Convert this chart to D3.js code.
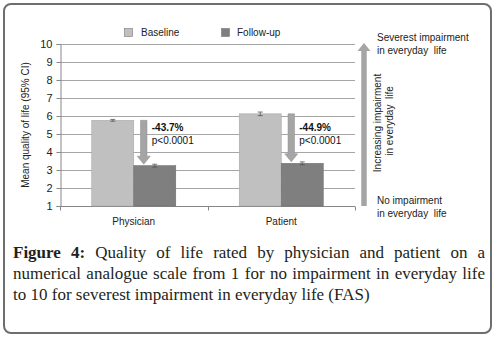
<!DOCTYPE html>
<html>
<head>
<meta charset="utf-8">
<script src="https://cdn.jsdelivr.net/npm/d3@7"></script>
<style>
  body { margin: 0; background: #fff; }
  text { font-family: "Liberation Sans", Arial, sans-serif; }
  .pre { white-space: pre; }
</style>
</head>
<body>
<div id="chart"></div>
<script>
// data
const categories = ["Physician", "Patient"];
const series = ["Baseline", "Follow-up"];
const baseline = [5.76, 6.12];
const followUp = [3.24, 3.37];
const baselineErr = [0.05, 0.1];
const followUpErr = [0.08, 0.08];
const changeLabels = ["-43.7%", "-44.9%"];
const pLabels = ["p<0.0001", "p<0.0001"];
const yTicks = [1, 2, 3, 4, 5, 6, 7, 8, 9, 10];
const captionLines = [
  "Quality of life rated by physician and patient on a",
  "numerical analogue scale from 1 for no impairment in everyday life",
  "to 10 for severest impairment in everyday life (FAS)"
];

let width = 497,
    height = 337,
    margin = ({ top: 44, right: 142, bottom: 131, left: 60 });

const svg = d3.select("#chart")
  .append("svg")
  .attr("width", width)
  .attr("height", height);

// frame round the whole figure
svg.append("rect")
  .attr("x", 4).attr("y", 4)
  .attr("width", 487).attr("height", 329)
  .attr("rx", 7)
  .attr("fill", "#fff")
  .attr("stroke", "#6e6e6e")
  .attr("stroke-width", 2);

let x = d3.scaleBand()
  .domain(categories)
  .range([margin.left, width - margin.right]);

let xs = d3.scaleBand()
  .domain(series)
  .range([0, x.bandwidth()])
  .paddingOuter(0.756);

let y = d3.scaleLinear()
  .domain([1, 10])
  .range([height - margin.bottom, margin.top]);

// gridlines
svg.append("g")
  .selectAll("line")
  .data(yTicks.slice(1))
  .join("line")
  .attr("x1", margin.left).attr("x2", width - margin.right)
  .attr("y1", d => y(d) + 0.5).attr("y2", d => y(d) + 0.5)
  .attr("stroke", "#a6a6a6");

// y axis
let yAxis = svg.append("g")
  .attr("transform", `translate(${margin.left + 0.5},0)`)
  .call(d3.axisLeft(y).tickValues(yTicks).tickSize(4).tickPadding(4));
yAxis.select(".domain").attr("stroke", "#868686");
yAxis.selectAll(".tick line").attr("stroke", "#868686");
yAxis.selectAll("text").attr("font-size", 11).attr("fill", "#222")
  .attr("font-family", "Liberation Sans, Arial, sans-serif");

// x axis, ticks sit on the band edges
let xAxis = svg.append("g")
  .attr("transform", `translate(0,${y(1) + 0.5})`);
xAxis.append("line")
  .attr("x1", margin.left).attr("x2", width - margin.right)
  .attr("stroke", "#868686");
xAxis.selectAll(".edge")
  .data([margin.left, ...categories.map(c => x(c) + x.bandwidth())])
  .join("line")
  .attr("class", "edge")
  .attr("x1", d => Math.round(d) + 0.5).attr("x2", d => Math.round(d) + 0.5)
  .attr("y1", 0).attr("y2", 4)
  .attr("stroke", "#868686");
xAxis.selectAll(".cat")
  .data(categories)
  .join("text")
  .attr("class", "cat")
  .attr("x", d => x(d) + x.bandwidth() / 2)
  .attr("y", 18)
  .attr("text-anchor", "middle")
  .attr("font-size", 10)
  .attr("fill", "#222")
  .text(d => d);

// y title
svg.append("text")
  .attr("transform", `translate(29,${(y(1) + y(10)) / 2}) rotate(-90)`)
  .attr("text-anchor", "middle")
  .attr("font-size", 10)
  .attr("fill", "#222")
  .text("Mean quality of life (95% CI)");

// bars
const colors = { "Baseline": "#c0c0c0", "Follow-up": "#7f7f7f" };
const strokes = { "Baseline": "#a8a8a8", "Follow-up": "#707070" };

let rows = [];
categories.forEach((c, i) => {
  rows.push({ cat: c, s: "Baseline", v: baseline[i], e: baselineErr[i] });
  rows.push({ cat: c, s: "Follow-up", v: followUp[i], e: followUpErr[i] });
});

svg.append("g")
  .selectAll("rect")
  .data(rows)
  .join("rect")
  .attr("x", d => x(d.cat) + xs(d.s))
  .attr("y", d => y(d.v))
  .attr("width", xs.bandwidth())
  .attr("height", d => y(1) - y(d.v))
  .attr("fill", d => colors[d.s])
  .attr("stroke", d => strokes[d.s])
  .attr("stroke-width", 0.6);

// error bars
let err = svg.append("g").attr("stroke", "#555").attr("stroke-width", 0.8);
rows.forEach(d => {
  let cx = x(d.cat) + xs(d.s) + xs.bandwidth() / 2;
  err.append("line").attr("x1", cx).attr("x2", cx)
    .attr("y1", y(d.v + d.e)).attr("y2", y(d.v - d.e));
  for (let v of [d.v + d.e, d.v - d.e]) {
    err.append("line").attr("x1", cx - 2.5).attr("x2", cx + 2.5)
      .attr("y1", y(v)).attr("y2", y(v));
  }
});

// arrow shape: y0 = tail, y1 = tip
function arrowPath(cx, y0, y1, shaft, head, headLen) {
  let dir = y1 > y0 ? 1 : -1;
  let yb = y1 - dir * headLen;
  return `M${cx - shaft / 2},${y0} L${cx + shaft / 2},${y0} L${cx + shaft / 2},${yb}` +
    ` L${cx + head / 2},${yb} L${cx},${y1} L${cx - head / 2},${yb} L${cx - shaft / 2},${yb} Z`;
}

categories.forEach((c, i) => {
  let cx = x(c) + x.bandwidth() / 2 + 10;
  svg.append("path")
    .attr("d", arrowPath(cx, y(baseline[i]), y(followUp[i]) - 1.5, 6.5, 13, 8))
    .attr("fill", "#a5a5a5")
    .attr("stroke", "#8c8c8c")
    .attr("stroke-width", 0.5);

  svg.append("text")
    .attr("x", cx + 8)
    .attr("y", 131)
    .attr("font-size", 10)
    .attr("font-weight", "bold")
    .attr("fill", "#111")
    .text(changeLabels[i]);
  svg.append("text")
    .attr("x", cx + 8)
    .attr("y", 144)
    .attr("font-size", 10)
    .attr("fill", "#111")
    .text(pLabels[i]);
});

// scale direction arrow on the right
let ax = width - margin.right + 9;
svg.append("path")
  .attr("d", arrowPath(ax, y(1), y(10) - 1, 5.5, 13, 8))
  .attr("fill", "#a5a5a5");

let note = svg.append("g")
  .attr("font-size", 10)
  .attr("fill", "#222");
note.append("text").attr("x", ax + 13).attr("y", 41).text("Severest impairment");
note.append("text").attr("class", "pre").attr("x", ax + 13).attr("y", 54).text("in everyday  life");
note.append("text").attr("x", ax + 13).attr("y", 204).text("No impairment");
note.append("text").attr("class", "pre").attr("x", ax + 13).attr("y", 217).text("in everyday  life");
note.append("text")
  .attr("transform", `translate(${ax + 17},123) rotate(-90)`)
  .attr("text-anchor", "middle")
  .text("Increasing impairment");
note.append("text")
  .attr("class", "pre")
  .attr("transform", `translate(${ax + 29},121) rotate(-90)`)
  .attr("text-anchor", "middle")
  .text("in everyday  life");

// legend
let legend = svg.append("g").attr("font-size", 10).attr("fill", "#222");
[{ s: "Baseline", x: 124, tx: 141 }, { s: "Follow-up", x: 221, tx: 237 }].forEach(l => {
  legend.append("rect")
    .attr("x", l.x + 0.5).attr("y", 28.5)
    .attr("width", 8).attr("height", 8)
    .attr("fill", colors[l.s])
    .attr("stroke", "#777")
    .attr("stroke-width", 0.6);
  legend.append("text")
    .attr("x", l.tx).attr("y", 36)
    .attr("fill", "#222")
    .text(l.s);
});

// caption, first two lines justified
const capLeft = 13, capRight = 485;
let cap = svg.append("g")
  .attr("font-size", 17)
  .attr("fill", "#231f20");

captionLines.forEach((line, i) => {
  let t = cap.append("text")
    .attr("x", capLeft)
    .attr("y", 258 + i * 21)
    .style("font-family", "'Liberation Serif', 'Times New Roman', serif");
  if (i === 0) {
    t.append("tspan").attr("font-weight", "bold").text("Figure 4: ");
  }
  t.append("tspan").text(line);
  if (i < 2) {
    let full = (i === 0 ? "Figure 4: " : "") + line;
    let gaps = full.trim().split(/\s+/).length - 1;
    let extra = (capRight - capLeft) - t.node().getComputedTextLength();
    t.attr("word-spacing", extra / gaps);
  }
});
</script>
</body>
</html>
